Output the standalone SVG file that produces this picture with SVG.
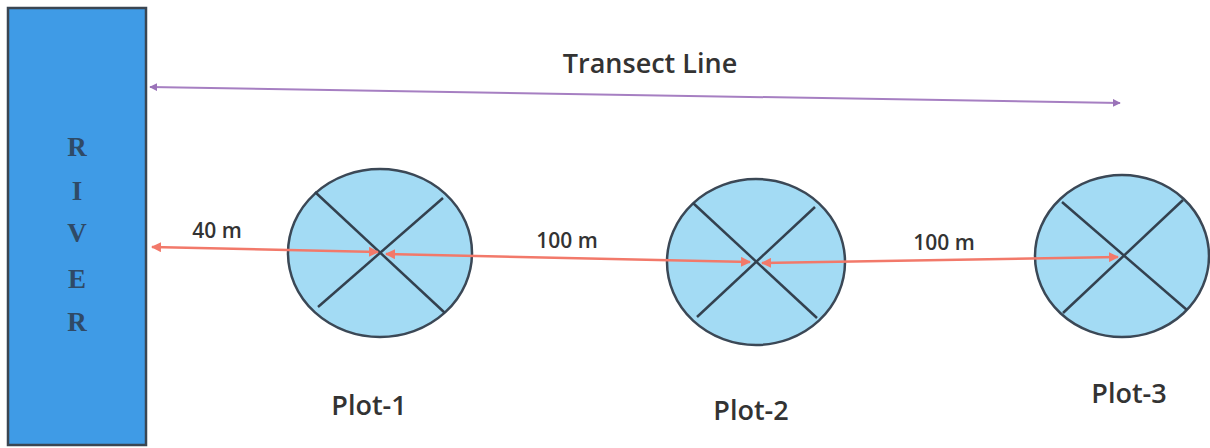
<svg xmlns="http://www.w3.org/2000/svg" width="1210" height="448" viewBox="0 0 1210 448">
<style>
.lbl{font-family:"Open Sans","Liberation Sans",sans-serif;font-weight:600;fill:#333333}
.riv{font-family:"Liberation Serif",serif;font-weight:bold;font-size:27px;fill:#2f4a66;text-anchor:middle}
.plot{fill:#a3dbf4;stroke:#3b4856;stroke-width:2.5}
.x{stroke:#33414f;stroke-width:2.5}
.red{stroke:#f2796a;stroke-width:2.5;fill:none}
.pur{stroke:#a67fc2;stroke-width:2;fill:none}
</style>
<defs>
<marker id="ar" viewBox="0 0 10 10" refX="9" refY="5" markerWidth="4" markerHeight="4" orient="auto-start-reverse" markerUnits="strokeWidth">
<path d="M0,0 L10,5 L0,10 z" fill="#f2796a"/>
</marker>
<marker id="ap" viewBox="0 0 10 10" refX="9" refY="5" markerWidth="4" markerHeight="4" orient="auto-start-reverse" markerUnits="strokeWidth">
<path d="M0,0 L10,5 L0,10 z" fill="#9a72b8"/>
</marker>
</defs>
<rect width="1210" height="448" fill="#ffffff"/>
<g id="river">
<rect x="8" y="8" width="138" height="437" fill="#3f9be6" stroke="#3a4652" stroke-width="2.5"/>
<text class="riv" x="77" y="156">R</text>
<text class="riv" x="77" y="200">I</text>
<text class="riv" x="77" y="242">V</text>
<text class="riv" x="77" y="288">E</text>
<text class="riv" x="77" y="331">R</text>
</g>
<g id="plot1">
<ellipse class="plot" cx="380" cy="253" rx="92" ry="84"/>
<line class="x" x1="315" y1="192" x2="445" y2="313"/>
<line class="x" x1="443" y1="198" x2="318" y2="307"/>
<text class="lbl" x="369" y="415" font-size="27" text-anchor="middle">Plot-1</text>
</g>
<g id="plot2">
<ellipse class="plot" cx="756" cy="262" rx="89" ry="83"/>
<line class="x" x1="693" y1="203" x2="817" y2="318"/>
<line class="x" x1="815" y1="207" x2="697" y2="317"/>
<text class="lbl" x="751" y="420" font-size="27" text-anchor="middle">Plot-2</text>
</g>
<g id="plot3">
<ellipse class="plot" cx="1122" cy="256" rx="87" ry="81"/>
<line class="x" x1="1062" y1="202" x2="1187" y2="310"/>
<line class="x" x1="1183" y1="200" x2="1063" y2="313"/>
<text class="lbl" x="1129" y="403" font-size="27" text-anchor="middle">Plot-3</text>
</g>
<g id="connectors">
<line class="pur" x1="150" y1="87" x2="1120" y2="103" marker-start="url(#ap)" marker-end="url(#ap)"/>
<line class="red" x1="152" y1="247" x2="378" y2="252" marker-start="url(#ar)" marker-end="url(#ar)"/>
<line class="red" x1="386" y1="254" x2="750" y2="262" marker-start="url(#ar)" marker-end="url(#ar)"/>
<line class="red" x1="762" y1="263" x2="1118" y2="257" marker-start="url(#ar)" marker-end="url(#ar)"/>
</g>
<g id="labels">
<text class="lbl" x="650" y="73" font-size="27" text-anchor="middle">Transect Line</text>
<text class="lbl" x="217" y="238" font-size="21" text-anchor="middle">40 m</text>
<text class="lbl" x="567" y="248" font-size="21" text-anchor="middle">100 m</text>
<text class="lbl" x="944" y="250" font-size="21" text-anchor="middle">100 m</text>
</g>
</svg>
